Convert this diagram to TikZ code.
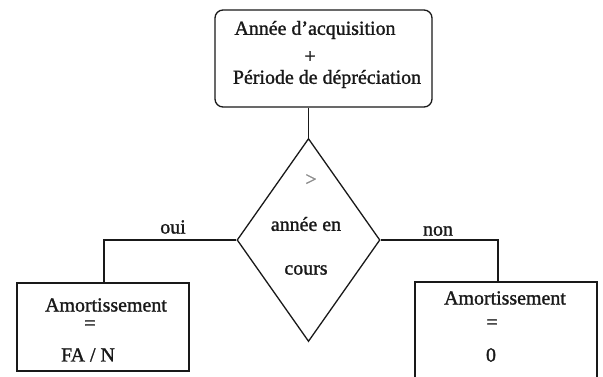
\documentclass[tikz,border=0pt]{standalone}
\usepackage{fontspec}
\setmainfont{Liberation Serif}
\newfontfamily\heavyfont{Liberation Serif}[FakeBold=1.3]
\usetikzlibrary{shapes.geometric}
\begin{document}
\begin{tikzpicture}[x=1bp,y=-1bp,
  line/.style={line width=1.3bp, black!90},
  txt/.style={inner sep=0pt, font=\heavyfont\fontsize{20}{22}\selectfont, text=black!90},
  box/.style={draw, line width=1.3bp, black!90, inner sep=0pt},
]
\useasboundingbox (0,0) rectangle (603,376);
\clip (0,0) rectangle (603,376);
\fill[white] (0,0) rectangle (603,376);
% top box
\node[box, rounded corners=8bp, minimum width=217bp, minimum height=97bp] (top) at (323.5,58.5) {};
\node[txt] (t1) at (315,30) {Année d’acquisition};
\node[txt] (t2) at (310,57) {+};
\node[txt] (t3) at (327,79) {Période de dépréciation};
% diamond
\node[diamond, draw, line width=1.3bp, black!90, inner sep=0pt, minimum width=143bp, minimum height=203bp] (d) at (308.5,240) {};
\node[txt, text=black!45] (gt) at (311,180) {>};
\node[txt] (d1) at (306,224) {année en};
\node[txt] (d2) at (306,270) {cours};
% left box
\node[box, minimum width=172bp, minimum height=88bp] (lb) at (103,327) {};
\node[txt] (l1) at (106,305) {Amortissement};
\node[txt] (l2) at (90,325) {=};
\node[txt] (l3) at (88,355) {FA / N};
% right box
\node[box, minimum width=182bp, minimum height=110bp] (rb) at (506,337) {};
\node[txt] (r1) at (505,298) {Amortissement};
\node[txt] (r2) at (492,324) {=};
\node[txt] (r3) at (491,355) {0};
% connectors
\coordinate (lt) at (104,283);
\coordinate (rt) at (498,282);
\draw[line] (d.north |- top.south) -- (d.north);
\draw[line] (d.west) -| (lt);
\draw[line] (d.east) -| (rt);
\node[txt] (oui) at (173,227) {oui};
\node[txt] (non) at (438,231) {non};
\end{tikzpicture}
\end{document}
